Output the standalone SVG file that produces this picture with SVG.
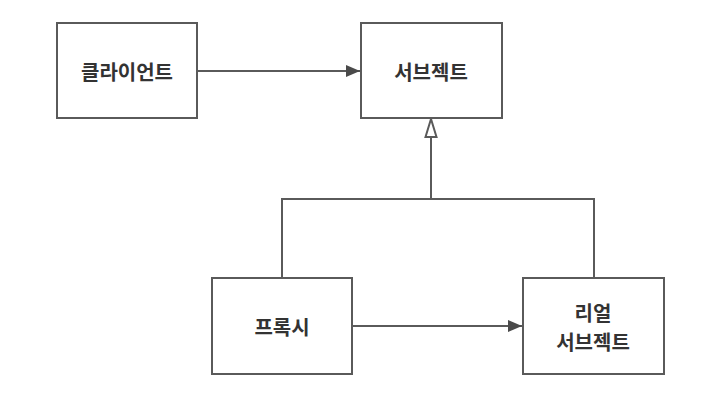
<svg xmlns="http://www.w3.org/2000/svg" width="714" height="412" viewBox="0 0 714 412">
<style>
.box{fill:#fff;stroke:#5a5a5a;stroke-width:2}
.lbl{font-family:"Noto Sans CJK KR","Noto Sans",sans-serif;font-size:20px;font-weight:600;fill:#333;text-anchor:middle;dominant-baseline:central}
.edge{fill:none;stroke:#5a5a5a;stroke-width:2}
</style>
<defs>
<marker id="arr" viewBox="0 0 14 12" refX="14" refY="6" markerWidth="14" markerHeight="12" markerUnits="userSpaceOnUse" orient="auto">
<path d="M0,0 L14,6 L0,12 Z" fill="#4a4a4a"/>
</marker>
<marker id="tri" viewBox="0 0 20 14" refX="19" refY="7" markerWidth="20" markerHeight="14" markerUnits="userSpaceOnUse" orient="auto">
<path d="M1,1.5 L19,7 L1,12.5 Z" fill="#fff" stroke="#5a5a5a" stroke-width="2"/>
</marker>
</defs>
<rect width="714" height="412" fill="#fff"/>
<g id="connectors">
<line class="edge" x1="197" y1="71" x2="360" y2="71" marker-end="url(#arr)"/>
<line class="edge" x1="352" y1="326" x2="522" y2="326" marker-end="url(#arr)"/>
<polyline class="edge" points="282,278 282,199 594,199 594,278"/>
<line class="edge" x1="431" y1="199" x2="431" y2="119" marker-end="url(#tri)"/>
</g>
<g id="client">
<rect class="box" x="57" y="23" width="140" height="95"/>
<text class="lbl" x="127" y="71">클라이언트</text>
</g>
<g id="subject">
<rect class="box" x="361" y="23" width="141" height="95"/>
<text class="lbl" x="431" y="71">서브젝트</text>
</g>
<g id="proxy">
<rect class="box" x="212" y="278" width="140" height="96"/>
<text class="lbl" x="282" y="326">프록시</text>
</g>
<g id="realsubject">
<rect class="box" x="523" y="278" width="141" height="96"/>
<text class="lbl" x="593" y="312">리얼</text>
<text class="lbl" x="593" y="341">서브젝트</text>
</g>
</svg>
